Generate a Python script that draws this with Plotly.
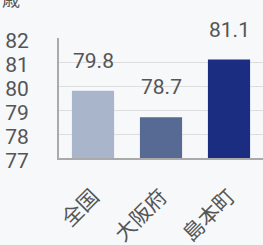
import plotly.graph_objects as go

categories = ["全国", "大阪府", "島本町"]
values = [79.8, 78.7, 81.1]
bar_colors = ["#a9b5cb", "#566a94", "#1b2d80"]
tick_vals = [77, 78, 79, 80, 81, 82]

fig = go.Figure(go.Bar(
    x=categories, y=values, marker_color=bar_colors,
    marker_line_width=0, hoverinfo="skip",
))
annotations = [dict(x=c, y=v, text=f"{v:.1f}", xref="x", yref="y", showarrow=False,
                    yanchor="bottom", yshift=16,
                    font=dict(size=21, color="#555555", family="Roboto"))
               for c, v in zip(categories, values)]
annotations.append(dict(text="歳", xref="paper", yref="paper", x=-0.29, y=1.335,
                        xanchor="left", yanchor="middle", showarrow=False,
                        font=dict(size=18, color="#555555")))
fig.update_layout(
    width=263, height=245, margin=dict(l=59, r=0, t=38, b=87, autoexpand=False),
    paper_bgcolor="#f7f8fa", plot_bgcolor="#f7f8fa",
    font=dict(family="Noto Sans CJK JP, Roboto", color="#555555", size=19),
    bargap=0.38, showlegend=False,
    annotations=annotations,
)
fig.update_yaxes(range=[77, 82], tickvals=tick_vals, showgrid=True, gridcolor="#dddddd",
                 showline=True, linecolor="#aaaaaa", linewidth=2, ticks="", automargin=False,
                 tickfont=dict(size=21, family="Roboto"), ticklabelstandoff=24,
                 ticklabelshift=3)
fig.update_xaxes(showline=True, linecolor="#aaaaaa", linewidth=2, tickangle=-45,
                 automargin=False, tickfont=dict(size=21), ticklabelstandoff=16)
fig.write_html("out.html", config={"displayModeBar": False},
               post_script="document.body.style.margin='0';")
